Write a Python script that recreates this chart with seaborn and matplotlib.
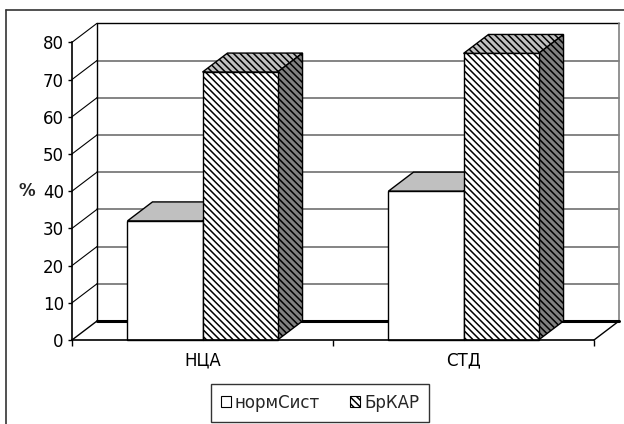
import numpy as np
import pandas as pd
import matplotlib
matplotlib.use("Agg")
import matplotlib.pyplot as plt
import seaborn as sns
from matplotlib.patches import Polygon, Patch
from matplotlib.lines import Line2D

# ---- data -------------------------------------------------------------
categories = ["НЦА", "СТД"]
series_names = ["нормСист", "БрКАР"]
norm_sist = [32, 40]
br_kar = [72, 77]
y_ticks = [0, 10, 20, 30, 40, 50, 60, 70, 80]

df = pd.DataFrame({
    "category": categories * 2,
    "series": [series_names[0]] * len(categories) + [series_names[1]] * len(categories),
    "value": norm_sist + br_kar,
})

# ---- style ------------------------------------------------------------
sns.set_theme(style="white")
plt.rcParams["font.family"] = ["DejaVu Sans"]
plt.rcParams["hatch.linewidth"] = 1.1
FS = 12
HATCH = "\\" * 5

W, H = 624, 424
fig = plt.figure(figsize=(W / 100, H / 100), dpi=100)
fig.patch.set_facecolor("white")

# plot region in pixels (front axis origin, back wall top)
L, B, T = 72, 340, 23.3
cat_px = (594 - 72) / 2          # width of one category on the front floor
px_per_unit = (340 - 42.3) / 80  # vertical pixels per percent
DX = 25 / cat_px                 # depth offset (x, data units)
DY = 19 / px_per_unit            # depth offset (y, data units)
R = L + 2 * cat_px + 25
ax = fig.add_axes([L / W, (H - B) / H, (R - L) / W, (B - T) / H])
ax.patch.set_visible(False)

# ---- bars -------------------------------------------------------------
sns.barplot(data=df, x="category", y="value", hue="series",
            order=categories, hue_order=series_names,
            palette=["white", "white"], edgecolor="black", linewidth=1.0,
            width=0.575, errorbar=None, legend=False, ax=ax)

ax.set_xlim(-0.5, 1.5 + DX)
ax.set_ylim(0, (B - T) / px_per_unit)

for i, cont in enumerate(ax.containers):
    for bar in cont:
        x0, w, h = bar.get_x(), bar.get_width(), bar.get_height()
        hatch = HATCH if i == 1 else None
        top = Polygon([(x0, h), (x0 + DX, h + DY), (x0 + w + DX, h + DY), (x0 + w, h)],
                      closed=True, facecolor="#c0c0c0", edgecolor="black", lw=1.0,
                      hatch=hatch, zorder=3 + i, clip_on=False)
        side = Polygon([(x0 + w, 0), (x0 + w, h), (x0 + w + DX, h + DY), (x0 + w + DX, DY)],
                       closed=True, facecolor="#808080", edgecolor="black", lw=1.0,
                       hatch=hatch, zorder=3 + i, clip_on=False)
        ax.add_patch(top)
        ax.add_patch(side)
        bar.set_zorder(3.5 + i)
        bar.set_clip_on(False)
        if hatch:
            bar.set_hatch(hatch)

# ---- walls, floor and gridlines ----------------------------------------
xb0, xb1 = -0.5 + DX, 1.5 + DX
for v in y_ticks[1:-1]:
    ax.plot([xb0, xb1], [v + DY] * 2, color="#707070", lw=1.2, zorder=1, clip_on=False)
for v in y_ticks[1:]:
    ax.plot([-0.5, xb0], [v, v + DY], color="black", lw=0.8, zorder=1, clip_on=False)
ax.plot([xb0, xb1], [80 + DY] * 2, color="black", lw=1.0, zorder=1, clip_on=False)
ax.plot([xb0, xb0], [DY, 80 + DY], color="black", lw=1.0, zorder=1, clip_on=False)
ax.plot([xb1, xb1], [DY, 80 + DY], color="#808080", lw=1.2, zorder=1, clip_on=False)
ax.plot([xb0, xb1], [DY, DY], color="black", lw=2.2, zorder=1.5, clip_on=False)
ax.plot([-0.5, xb0], [0, DY], color="black", lw=1.0, zorder=1.5, clip_on=False)
ax.plot([1.5, xb1], [0, DY], color="black", lw=1.0, zorder=1.5, clip_on=False)

# ---- axes -------------------------------------------------------------
ax.grid(False)
for s in ["top", "right"]:
    ax.spines[s].set_visible(False)
ax.spines["left"].set_bounds(0, 80)
ax.spines["bottom"].set_bounds(-0.5, 1.5)
for s in ["left", "bottom"]:
    ax.spines[s].set_color("black")
    ax.spines[s].set_linewidth(1.2)
    ax.spines[s].set_zorder(6)

ax.set_yticks(y_ticks)
ax.set_yticklabels([str(v) for v in y_ticks], fontsize=FS)
ax.tick_params(axis="y", left=True, length=2.9, width=1, pad=3.0, colors="black")

ax.set_xticks([-0.5, 0.5, 1.5])
ax.set_xticklabels(["", "", ""])
ax.set_xticks([0, 1], minor=True)
ax.set_xticklabels(categories, minor=True, fontsize=FS)
ax.tick_params(axis="x", which="major", bottom=True, length=4.0, width=1, colors="black")
ax.tick_params(axis="x", which="minor", bottom=True, length=0, pad=8.5, colors="black")
ax.set_xlabel("")
ax.set_ylabel("")

fig.text(27 / W, 1 - 190.7 / H, "%", fontsize=FS, fontweight="bold",
         ha="center", va="center")

# chart area border (left and top edges)
fig.add_artist(Line2D([5.5 / W, 5.5 / W], [0, 1 - 9.5 / H],
                      transform=fig.transFigure, color="#333333", lw=1.2))
fig.add_artist(Line2D([5.5 / W, 1], [1 - 9.5 / H, 1 - 9.5 / H],
                      transform=fig.transFigure, color="#333333", lw=1.2))

# ---- legend -----------------------------------------------------------
handles = [Patch(facecolor="white", edgecolor="black", lw=0.8),
           Patch(facecolor="white", edgecolor="black", lw=0.8, hatch=HATCH)]
leg = fig.legend(handles, series_names, loc="center",
                 bbox_to_anchor=(320 / W, 1 - 402.5 / H), ncol=2,
                 frameon=True, fancybox=False, edgecolor="black", fontsize=FS,
                 handlelength=0.6, handleheight=0.6, handletextpad=0.25,
                 columnspacing=1.8, borderpad=0.6)
leg.get_frame().set_linewidth(1.0)

fig.savefig("out.png", dpi=100, facecolor="white")
